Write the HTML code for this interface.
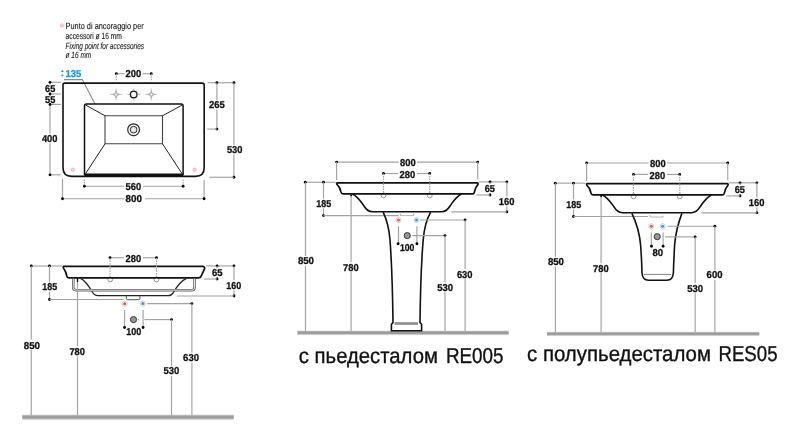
<!DOCTYPE html>
<html><head><meta charset="utf-8"><style>
html,body{margin:0;padding:0;background:#fff;width:800px;height:442px;overflow:hidden}
svg{display:block;will-change:transform}
text{font-family:"Liberation Sans",sans-serif;text-rendering:geometricPrecision}
</style></head><body>
<svg width="800" height="442" viewBox="0 0 800 442" stroke-linecap="butt">
<defs><linearGradient id="gb" x1="0" y1="0" x2="0" y2="1"><stop offset="0" stop-color="#e8e8e8"/><stop offset="0.25" stop-color="#a9a9a9"/><stop offset="0.45" stop-color="#979797"/><stop offset="0.62" stop-color="#9d9d9d"/><stop offset="0.8" stop-color="#c4c4c4"/><stop offset="1" stop-color="#eeeeee"/></linearGradient></defs>
<rect width="800" height="442" fill="#fff"/>
<circle cx="61.9" cy="25.6" r="1.7" fill="#f9d3dc" stroke="#f2a3b4" stroke-width="0.7"/>
<text x="65.6" y="28.6" font-size="9" font-weight="normal" fill="#1a1a1a" stroke="#1a1a1a" stroke-width="0.12" textLength="78.15" lengthAdjust="spacingAndGlyphs">Punto di ancoraggio per</text>
<text x="65.6" y="39" font-size="9" font-weight="normal" fill="#1a1a1a" stroke="#1a1a1a" stroke-width="0.12" textLength="56.3" lengthAdjust="spacingAndGlyphs">accessori ø 16 mm</text>
<text x="65.6" y="48.85" font-size="9" font-style="italic" fill="#1a1a1a" stroke="#1a1a1a" stroke-width="0.12" textLength="78.4" lengthAdjust="spacingAndGlyphs">Fixing point for accessories</text>
<text x="65.6" y="58.3" font-size="9" font-style="italic" fill="#1a1a1a" stroke="#1a1a1a" stroke-width="0.12" textLength="25.6" lengthAdjust="spacingAndGlyphs">ø 16 mm</text>
<path d="M60.9 71.9 L62.35 69.8 L63.8 71.9 Z M60.9 74.7 L62.35 76.8 L63.8 74.7 Z" stroke="none" stroke-width="0" fill="#1b9ad8" />
<path d="M62.35 72.2 L62.35 74.4" stroke="#bfe0f3" stroke-width="0.8" fill="none" />
<text x="65.6" y="77" font-size="10" font-weight="bold" fill="#1b9ad8" stroke="#1b9ad8" stroke-width="0.3" textLength="15.7" lengthAdjust="spacingAndGlyphs">135</text>
<path d="M64 79.6 L82.3 79.6 L95 104" stroke="#8a8a8a" stroke-width="1.05" fill="none" />
<path d="M63 85 Q63 83.1 64.9 83.1 L202.3 83.1 Q204.2 83.1 204.2 85 L204.2 167.5 Q204.2 176.4 195.5 176.4 L71.7 176.4 Q63 176.4 63 167.5 Z" stroke="#111" stroke-width="1.6" fill="none" />
<path d="M84.5 175.3 L84.5 106 Q84.5 104.1 86.4 104.1 L181.2 104.1 Q183.1 104.1 183.1 106 L183.1 175.3" stroke="#111" stroke-width="1.5" fill="none" />
<path d="M84.5 175.2 L183.1 175.2" stroke="#111" stroke-width="3.2" fill="none" />
<path d="M105 115.8 L162.5 115.8 L162.5 143.8 L105 143.8 Z" stroke="#454545" stroke-width="1.1" fill="none" />
<path d="M85.5 105 L105 115.8 M182.2 105 L162.5 115.8 M105 143.8 L85.2 174.2 M162.5 143.8 L182.4 174.2" stroke="#222" stroke-width="1.0" fill="none" />
<circle cx="133.6" cy="129.7" r="5.9" fill="none" stroke="#2a2a2a" stroke-width="1.2"/>
<circle cx="133.6" cy="129.7" r="3.4" fill="#dcdcdc" stroke="#333" stroke-width="1.0"/>
<circle cx="133.6" cy="129.7" r="1.6" fill="#eee"/>
<path d="M127 129.7 L127.9 129.7 M139.3 129.7 L140.2 129.7 M133.6 123.1 L133.6 124 M133.6 135.4 L133.6 136.3" stroke="#555" stroke-width="0.7" fill="none" />
<path d="M110.1 94.45 L122.1 94.45 M116.1 88.45 L116.1 100.45" stroke="#b4b4b4" stroke-width="0.8" fill="none" />
<path d="M112.5 94.45 L115.1 93.45 L116.1 90.85 L117.1 93.45 L119.7 94.45 L117.1 95.45 L116.1 98.05 L115.1 95.45 Z" stroke="#a0a0a0" stroke-width="0.7" fill="#c8c8c8" />
<circle cx="116.1" cy="94.45" r="0.9" fill="#f4f4f4"/>
<path d="M145.3 94.45 L157.3 94.45 M151.3 88.45 L151.3 100.45" stroke="#b4b4b4" stroke-width="0.8" fill="none" />
<path d="M147.7 94.45 L150.3 93.45 L151.3 90.85 L152.3 93.45 L154.9 94.45 L152.3 95.45 L151.3 98.05 L150.3 95.45 Z" stroke="#a0a0a0" stroke-width="0.7" fill="#c8c8c8" />
<circle cx="151.3" cy="94.45" r="0.9" fill="#f4f4f4"/>
<circle cx="133.7" cy="94.45" r="3.3" fill="#f4f4f4" stroke="#1a1a1a" stroke-width="1.3"/>
<path d="M127.5 94.45 L130 94.45 M137.4 94.45 L139.9 94.45 M133.7 88.5 L133.7 91 M133.7 97.9 L133.7 100.4" stroke="#999" stroke-width="0.8" fill="none" />
<circle cx="72.75" cy="169.75" r="1.7" fill="#f9d3dc" stroke="#f2a3b4" stroke-width="0.7"/>
<circle cx="194.6" cy="169.75" r="1.7" fill="#f9d3dc" stroke="#f2a3b4" stroke-width="0.7"/>
<line x1="50" y1="82.3" x2="50" y2="84.5" stroke="#a2a2a2" stroke-width="1.15" />
<line x1="50" y1="92.5" x2="50" y2="95.5" stroke="#a2a2a2" stroke-width="1.15" />
<line x1="50" y1="103" x2="50" y2="133.5" stroke="#a2a2a2" stroke-width="1.15" />
<line x1="50" y1="143.5" x2="50" y2="174.8" stroke="#a2a2a2" stroke-width="1.15" />
<line x1="50" y1="82.3" x2="61" y2="82.3" stroke="#a2a2a2" stroke-width="1.15" />
<circle cx="50" cy="82.3" r="1.4" fill="#000"/>
<line x1="50" y1="94" x2="61" y2="94" stroke="#a2a2a2" stroke-width="1.15" />
<circle cx="50" cy="94" r="1.4" fill="#000"/>
<line x1="50" y1="104.4" x2="61" y2="104.4" stroke="#a2a2a2" stroke-width="1.15" />
<circle cx="50" cy="104.4" r="1.4" fill="#000"/>
<line x1="50" y1="174.8" x2="60.6" y2="174.8" stroke="#a2a2a2" stroke-width="1.15" />
<circle cx="50" cy="174.8" r="1.4" fill="#000"/>
<text x="45.1" y="91.7" font-size="10" font-weight="bold" fill="#111" stroke="#111" stroke-width="0.3" textLength="10.2" lengthAdjust="spacingAndGlyphs">65</text>
<text x="45.1" y="102.8" font-size="10" font-weight="bold" fill="#111" stroke="#111" stroke-width="0.3" textLength="10.2" lengthAdjust="spacingAndGlyphs">55</text>
<text x="41.9" y="141.9" font-size="10" font-weight="bold" fill="#111" stroke="#111" stroke-width="0.3" textLength="15.6" lengthAdjust="spacingAndGlyphs">400</text>
<line x1="116.25" y1="73.75" x2="124.5" y2="73.75" stroke="#a2a2a2" stroke-width="1.15" />
<line x1="142.5" y1="73.75" x2="151.25" y2="73.75" stroke="#a2a2a2" stroke-width="1.15" />
<circle cx="116.25" cy="73.75" r="1.4" fill="#000"/>
<circle cx="151.25" cy="73.75" r="1.4" fill="#000"/>
<line x1="116.25" y1="73.75" x2="116.25" y2="80.6" stroke="#a2a2a2" stroke-width="1.15" stroke-dasharray="1.5 1"/>
<line x1="151.25" y1="73.75" x2="151.25" y2="80.6" stroke="#a2a2a2" stroke-width="1.15" stroke-dasharray="1.5 1"/>
<text x="125.6" y="77.3" font-size="10" font-weight="bold" fill="#111" stroke="#111" stroke-width="0.3" textLength="15.65" lengthAdjust="spacingAndGlyphs">200</text>
<line x1="207.5" y1="82.75" x2="235" y2="82.75" stroke="#a2a2a2" stroke-width="1.15" />
<circle cx="216.9" cy="82.75" r="1.4" fill="#000"/>
<circle cx="234" cy="82.75" r="1.4" fill="#000"/>
<line x1="216.9" y1="82.75" x2="216.9" y2="100" stroke="#a2a2a2" stroke-width="1.15" />
<line x1="216.9" y1="109.5" x2="216.9" y2="129.1" stroke="#a2a2a2" stroke-width="1.15" />
<circle cx="216.9" cy="129.1" r="1.4" fill="#000"/>
<line x1="207.3" y1="129.1" x2="216.9" y2="129.1" stroke="#a2a2a2" stroke-width="1.15" />
<text x="209" y="108.1" font-size="10" font-weight="bold" fill="#111" stroke="#111" stroke-width="0.3" textLength="15.75" lengthAdjust="spacingAndGlyphs">265</text>
<line x1="233.9" y1="82.75" x2="233.9" y2="145" stroke="#a2a2a2" stroke-width="1.15" />
<line x1="233.9" y1="154.5" x2="233.9" y2="177.25" stroke="#a2a2a2" stroke-width="1.15" />
<circle cx="233.9" cy="177.25" r="1.4" fill="#000"/>
<line x1="209.4" y1="177.25" x2="233.9" y2="177.25" stroke="#a2a2a2" stroke-width="1.15" />
<text x="226.9" y="153.1" font-size="10" font-weight="bold" fill="#111" stroke="#111" stroke-width="0.3" textLength="15.6" lengthAdjust="spacingAndGlyphs">530</text>
<line x1="84.4" y1="179.4" x2="84.4" y2="186.25" stroke="#a2a2a2" stroke-width="1.15" stroke-dasharray="1.5 1"/>
<line x1="183.1" y1="179.4" x2="183.1" y2="186.25" stroke="#a2a2a2" stroke-width="1.15" stroke-dasharray="1.5 1"/>
<line x1="84.4" y1="186.25" x2="124.4" y2="186.25" stroke="#a2a2a2" stroke-width="1.15" />
<line x1="143" y1="186.25" x2="183.1" y2="186.25" stroke="#a2a2a2" stroke-width="1.15" />
<circle cx="84.4" cy="186.25" r="1.4" fill="#000"/>
<circle cx="183.1" cy="186.25" r="1.4" fill="#000"/>
<text x="125.6" y="190" font-size="10" font-weight="bold" fill="#111" stroke="#111" stroke-width="0.3" textLength="15.65" lengthAdjust="spacingAndGlyphs">560</text>
<line x1="62.5" y1="179" x2="62.5" y2="198.75" stroke="#a2a2a2" stroke-width="1.15" />
<line x1="204.1" y1="180" x2="204.1" y2="198.75" stroke="#a2a2a2" stroke-width="1.15" />
<line x1="62.5" y1="198.75" x2="124.4" y2="198.75" stroke="#a2a2a2" stroke-width="1.15" />
<line x1="145" y1="198.75" x2="204.1" y2="198.75" stroke="#a2a2a2" stroke-width="1.15" />
<circle cx="62.5" cy="198.75" r="1.4" fill="#000"/>
<circle cx="204.1" cy="198.75" r="1.4" fill="#000"/>
<text x="125.6" y="201.9" font-size="10" font-weight="bold" fill="#111" stroke="#111" stroke-width="0.3" textLength="16.3" lengthAdjust="spacingAndGlyphs">800</text>
<rect x="22.25" y="414.4" width="211.5" height="5.7" fill="url(#gb)" />
<circle cx="110.2" cy="279.5" r="2.4" fill="#fff" stroke="#8a8a8a" stroke-width="0.9"/>
<circle cx="156.4" cy="279.5" r="2.4" fill="#fff" stroke="#8a8a8a" stroke-width="0.9"/>
<path d="M63.8 266.3 L203 266.3 Q204 266.4 204.6 267.6 Q204.9 268.3 204.5 269 L201.3 275.8 Q200.7 277.7 198.8 277.8 L68.8 277.8 Q67.2 277.8 66.8 276 C66.2 272.5 65.5 271 64 269 Q62.5 266.8 63.8 266.3 Z" stroke="#111" stroke-width="1.7" fill="none" />
<path d="M80.6 278.3 C86 281 89.5 287 92.5 292.3 Q94.3 295.6 98 295.6 L168.5 295.6 Q171.5 295.6 173.5 292.3 C176.5 287 181 281 186.3 278.3" stroke="#222" stroke-width="1.3" fill="none" />
<path d="M73.3 278.8 L73.3 287.6 Q73.3 290.2 76 290.2 L192 290.2 Q194.5 290.2 194.5 287.6 L194.5 278.8" stroke="#5c5c5c" stroke-width="2.5" fill="none" />
<path d="M73.3 278.8 L73.3 287.6 Q73.3 290.2 76 290.2 L192 290.2 Q194.5 290.2 194.5 287.6 L194.5 278.8" stroke="#f4f4f4" stroke-width="0.9" fill="none" />
<path d="M77.5 278 L77.5 282" stroke="#111" stroke-width="1.4" fill="none" />
<path d="M126.3 295.8 L126.3 298.4 Q126.3 299.7 127.6 299.7 L138.7 299.7 Q140 299.7 140 298.4 L140 295.8" stroke="#444" stroke-width="0.9" fill="none" />
<line x1="31.25" y1="266" x2="61.9" y2="266" stroke="#a2a2a2" stroke-width="1.15" />
<circle cx="31.25" cy="266" r="1.4" fill="#000"/>
<circle cx="49.5" cy="266" r="1.4" fill="#000"/>
<line x1="31.25" y1="266" x2="31.25" y2="339.5" stroke="#a2a2a2" stroke-width="1.15" />
<line x1="31.25" y1="350" x2="31.25" y2="415.3" stroke="#a2a2a2" stroke-width="1.15" />
<text x="23.75" y="348.5" font-size="10" font-weight="bold" fill="#111" stroke="#111" stroke-width="0.3" textLength="16.25" lengthAdjust="spacingAndGlyphs">850</text>
<line x1="49.5" y1="266" x2="49.5" y2="282.3" stroke="#a2a2a2" stroke-width="1.15" />
<line x1="49.5" y1="291.8" x2="49.5" y2="299.5" stroke="#a2a2a2" stroke-width="1.15" />
<circle cx="49.5" cy="299.5" r="1.4" fill="#000"/>
<line x1="49.5" y1="299.5" x2="123.75" y2="299.5" stroke="#a2a2a2" stroke-width="1.15" />
<text x="42.25" y="290.25" font-size="10" font-weight="bold" fill="#111" stroke="#111" stroke-width="0.3" textLength="14.85" lengthAdjust="spacingAndGlyphs">185</text>
<line x1="77.5" y1="282" x2="77.5" y2="346" stroke="#a2a2a2" stroke-width="1.15" />
<line x1="77.5" y1="356.3" x2="77.5" y2="415.3" stroke="#a2a2a2" stroke-width="1.15" />
<text x="69.4" y="354.75" font-size="10" font-weight="bold" fill="#111" stroke="#111" stroke-width="0.3" textLength="15.6" lengthAdjust="spacingAndGlyphs">780</text>
<line x1="110" y1="257.75" x2="124" y2="257.75" stroke="#a2a2a2" stroke-width="1.15" />
<line x1="143" y1="257.75" x2="156.5" y2="257.75" stroke="#a2a2a2" stroke-width="1.15" />
<circle cx="110" cy="257.75" r="1.4" fill="#000"/>
<circle cx="156.5" cy="257.75" r="1.4" fill="#000"/>
<text x="125.6" y="261.9" font-size="10" font-weight="bold" fill="#111" stroke="#111" stroke-width="0.3" textLength="15.65" lengthAdjust="spacingAndGlyphs">280</text>
<line x1="110" y1="258" x2="110" y2="278.6" stroke="#a2a2a2" stroke-width="1.15" stroke-dasharray="1.5 1"/>
<line x1="156.5" y1="258" x2="156.5" y2="278.6" stroke="#a2a2a2" stroke-width="1.15" stroke-dasharray="1.5 1"/>
<line x1="206.25" y1="265.9" x2="234" y2="265.9" stroke="#a2a2a2" stroke-width="1.15" />
<circle cx="217.1" cy="265.9" r="1.4" fill="#000"/>
<circle cx="234" cy="265.9" r="1.4" fill="#000"/>
<line x1="217.1" y1="265.9" x2="217.1" y2="268" stroke="#a2a2a2" stroke-width="1.15" />
<line x1="217.1" y1="277.3" x2="217.1" y2="279" stroke="#a2a2a2" stroke-width="1.15" />
<circle cx="217.1" cy="279" r="1.4" fill="#000"/>
<line x1="203.75" y1="279" x2="217.1" y2="279" stroke="#a2a2a2" stroke-width="1.15" />
<text x="211.9" y="276.25" font-size="10" font-weight="bold" fill="#111" stroke="#111" stroke-width="0.3" textLength="10.6" lengthAdjust="spacingAndGlyphs">65</text>
<line x1="234" y1="265.9" x2="234" y2="280.5" stroke="#a2a2a2" stroke-width="1.15" />
<line x1="234" y1="290.3" x2="234" y2="296" stroke="#a2a2a2" stroke-width="1.15" />
<circle cx="234" cy="296" r="1.4" fill="#000"/>
<line x1="176.9" y1="296" x2="234" y2="296" stroke="#a2a2a2" stroke-width="1.15" />
<text x="226.25" y="288.75" font-size="10" font-weight="bold" fill="#111" stroke="#111" stroke-width="0.3" textLength="15" lengthAdjust="spacingAndGlyphs">160</text>
<circle cx="124.6" cy="303.75" r="2.6" fill="#f4f4f4" stroke="#c8c8c8" stroke-width="0.8"/>
<circle cx="124.6" cy="303.75" r="1.5" fill="#e85a4a"/>
<circle cx="142.9" cy="303.6" r="2.6" fill="#f4f4f4" stroke="#c8c8c8" stroke-width="0.8"/>
<circle cx="142.9" cy="303.6" r="1.5" fill="#3a9ae0"/>
<line x1="147.25" y1="303.6" x2="191.9" y2="303.6" stroke="#a2a2a2" stroke-width="1.15" />
<circle cx="191.9" cy="303.6" r="1.4" fill="#000"/>
<line x1="191.9" y1="303.6" x2="191.9" y2="352.5" stroke="#a2a2a2" stroke-width="1.15" />
<line x1="191.9" y1="362.5" x2="191.9" y2="415.3" stroke="#a2a2a2" stroke-width="1.15" />
<text x="183.1" y="361" font-size="10" font-weight="bold" fill="#111" stroke="#111" stroke-width="0.3" textLength="15.9" lengthAdjust="spacingAndGlyphs">630</text>
<line x1="124.6" y1="310" x2="124.6" y2="327.5" stroke="#a2a2a2" stroke-width="1.15" />
<line x1="143.1" y1="310" x2="143.1" y2="327.5" stroke="#a2a2a2" stroke-width="1.15" />
<circle cx="124.6" cy="327.5" r="1.4" fill="#000"/>
<circle cx="143.1" cy="327.5" r="1.4" fill="#000"/>
<text x="126.25" y="335" font-size="10" font-weight="bold" fill="#111" stroke="#111" stroke-width="0.3" textLength="15" lengthAdjust="spacingAndGlyphs">100</text>
<circle cx="133.5" cy="319.6" r="3.1" fill="#8a8a8a" stroke="#333" stroke-width="0.9"/>
<circle cx="133.5" cy="319.6" r="1.5" fill="none" stroke="#bbb" stroke-width="0.5"/>
<line x1="138" y1="319.6" x2="140" y2="319.6" stroke="#a2a2a2" stroke-width="1.15" stroke-dasharray="1 1"/>
<line x1="144.4" y1="319.6" x2="171.5" y2="319.6" stroke="#a2a2a2" stroke-width="1.15" />
<circle cx="171.5" cy="319.6" r="1.4" fill="#000"/>
<line x1="171.5" y1="319.6" x2="171.5" y2="365.8" stroke="#a2a2a2" stroke-width="1.15" />
<line x1="171.5" y1="376" x2="171.5" y2="415.3" stroke="#a2a2a2" stroke-width="1.15" />
<text x="163.5" y="374.4" font-size="10" font-weight="bold" fill="#111" stroke="#111" stroke-width="0.3" textLength="15.9" lengthAdjust="spacingAndGlyphs">530</text>
<rect x="297.4" y="330.4" width="211.35" height="4.9" fill="url(#gb)" />
<circle cx="383.5" cy="195.4" r="2.4" fill="#fff" stroke="#8a8a8a" stroke-width="0.9"/>
<circle cx="429.75" cy="195.4" r="2.4" fill="#fff" stroke="#8a8a8a" stroke-width="0.9"/>
<path d="M337 182.8 L477.3 182.8 Q478.4 183 478 184.3 L475.6 188 L474.2 192.6 Q473.7 193.9 472.5 193.9 L343 193.9 Q341.3 193.9 340.9 191.9 C340.4 188.5 339.5 187 337.6 185.2 Q336 183.6 337 182.8 Z" stroke="#111" stroke-width="1.7" fill="none" />
<path d="M352.3 194 C358 196.5 361 202 364 206 Q367.5 211.8 372.5 211.8 L441.5 211.8 Q446.5 211.8 450 206 C453 202 456 196.5 461.5 194" stroke="#111" stroke-width="1.6" fill="none" />
<line x1="336.6" y1="162.1" x2="398.5" y2="162.1" stroke="#a2a2a2" stroke-width="1.15" />
<line x1="417" y1="162.1" x2="477.75" y2="162.1" stroke="#a2a2a2" stroke-width="1.15" />
<circle cx="336.6" cy="162.1" r="1.4" fill="#000"/>
<circle cx="477.75" cy="162.1" r="1.4" fill="#000"/>
<line x1="336.6" y1="162.1" x2="336.6" y2="180" stroke="#a2a2a2" stroke-width="1.15" />
<line x1="477.75" y1="162.1" x2="477.75" y2="179.4" stroke="#a2a2a2" stroke-width="1.15" />
<text x="400" y="165.6" font-size="10" font-weight="bold" fill="#111" stroke="#111" stroke-width="0.3" textLength="15.6" lengthAdjust="spacingAndGlyphs">800</text>
<line x1="383.5" y1="173.5" x2="398" y2="173.5" stroke="#a2a2a2" stroke-width="1.15" />
<line x1="417" y1="173.5" x2="429.75" y2="173.5" stroke="#a2a2a2" stroke-width="1.15" />
<circle cx="383.5" cy="173.5" r="1.4" fill="#000"/>
<circle cx="429.75" cy="173.5" r="1.4" fill="#000"/>
<line x1="383.5" y1="173.5" x2="383.5" y2="193.3" stroke="#a2a2a2" stroke-width="1.15" stroke-dasharray="1.5 1"/>
<line x1="429.75" y1="173.5" x2="429.75" y2="193.3" stroke="#a2a2a2" stroke-width="1.15" stroke-dasharray="1.5 1"/>
<text x="399.6" y="177.75" font-size="10" font-weight="bold" fill="#111" stroke="#111" stroke-width="0.3" textLength="15.65" lengthAdjust="spacingAndGlyphs">280</text>
<line x1="305.25" y1="182.25" x2="335.6" y2="182.25" stroke="#a2a2a2" stroke-width="1.15" />
<circle cx="305.25" cy="182.25" r="1.4" fill="#000"/>
<circle cx="323.5" cy="182.25" r="1.4" fill="#000"/>
<text x="297.9" y="264.4" font-size="10" font-weight="bold" fill="#111" stroke="#111" stroke-width="0.3" textLength="16.1" lengthAdjust="spacingAndGlyphs">850</text>
<line x1="323.5" y1="182.25" x2="323.5" y2="198.5" stroke="#a2a2a2" stroke-width="1.15" />
<line x1="323.5" y1="208.5" x2="323.5" y2="215.6" stroke="#a2a2a2" stroke-width="1.15" />
<circle cx="323.5" cy="215.6" r="1.4" fill="#000"/>
<text x="316.25" y="206.9" font-size="10" font-weight="bold" fill="#111" stroke="#111" stroke-width="0.3" textLength="15" lengthAdjust="spacingAndGlyphs">185</text>
<line x1="351.1" y1="194.4" x2="351.1" y2="262" stroke="#a2a2a2" stroke-width="1.15" />
<line x1="351.1" y1="272" x2="351.1" y2="331" stroke="#a2a2a2" stroke-width="1.15" />
<circle cx="351.1" cy="195.2" r="1.0" fill="#000"/>
<text x="343.1" y="270.6" font-size="10" font-weight="bold" fill="#111" stroke="#111" stroke-width="0.3" textLength="15.65" lengthAdjust="spacingAndGlyphs">780</text>
<line x1="478.75" y1="181.9" x2="506.9" y2="181.9" stroke="#a2a2a2" stroke-width="1.15" />
<circle cx="490" cy="181.9" r="1.4" fill="#000"/>
<circle cx="506.9" cy="181.9" r="1.4" fill="#000"/>
<line x1="490" y1="181.9" x2="490" y2="184" stroke="#a2a2a2" stroke-width="1.15" />
<line x1="490" y1="193.3" x2="490" y2="195" stroke="#a2a2a2" stroke-width="1.15" />
<circle cx="490" cy="195" r="1.4" fill="#000"/>
<line x1="476.25" y1="195" x2="490" y2="195" stroke="#a2a2a2" stroke-width="1.15" />
<text x="484.75" y="192.25" font-size="10" font-weight="bold" fill="#111" stroke="#111" stroke-width="0.3" textLength="10.25" lengthAdjust="spacingAndGlyphs">65</text>
<line x1="506.9" y1="181.9" x2="506.9" y2="196.5" stroke="#a2a2a2" stroke-width="1.15" />
<line x1="506.9" y1="206.3" x2="506.9" y2="211.9" stroke="#a2a2a2" stroke-width="1.15" />
<circle cx="506.9" cy="211.9" r="1.4" fill="#000"/>
<line x1="451.25" y1="211.9" x2="506.9" y2="211.9" stroke="#a2a2a2" stroke-width="1.15" />
<text x="498.75" y="205" font-size="10" font-weight="bold" fill="#111" stroke="#111" stroke-width="0.3" textLength="15.65" lengthAdjust="spacingAndGlyphs">160</text>
<line x1="305.5" y1="182.25" x2="305.5" y2="256" stroke="#a2a2a2" stroke-width="1.15" />
<line x1="305.5" y1="266" x2="305.5" y2="331.1" stroke="#a2a2a2" stroke-width="1.15" />
<line x1="323.5" y1="215.6" x2="398.75" y2="215.6" stroke="#a2a2a2" stroke-width="1.15" />
<path d="M383.1 212.2 C386.5 219 389 228 390 240 C391.2 256 392.6 290 393 322.6 L391.4 324.3 L391.4 330.7 L421.6 330.7 L421.6 324.3 L420 322.6 C420.4 290 421.8 256 423.2 240 C424.2 228 426.8 219 430.6 212.2" stroke="#111" stroke-width="1.6" fill="none" />
<rect x="394.6" y="322.2" width="23.4" height="2.6" fill="#8c8c8c" />
<path d="M400.2 213.8 L400.2 215.6 L413.8 215.6 L413.8 213.8" stroke="#555" stroke-width="0.7" fill="none" stroke-dasharray="1.2 0.8"/>
<circle cx="398.5" cy="220" r="2.6" fill="#f4f4f4" stroke="#c8c8c8" stroke-width="0.8"/>
<circle cx="398.5" cy="220" r="1.5" fill="#e85a4a"/>
<circle cx="416.5" cy="220" r="2.6" fill="#f4f4f4" stroke="#c8c8c8" stroke-width="0.8"/>
<circle cx="416.5" cy="220" r="1.5" fill="#3a9ae0"/>
<line x1="420" y1="220" x2="465.1" y2="220" stroke="#a2a2a2" stroke-width="1.15" />
<circle cx="465.1" cy="220" r="1.4" fill="#000"/>
<line x1="465.1" y1="220" x2="465.1" y2="269" stroke="#a2a2a2" stroke-width="1.15" />
<line x1="465.1" y1="279" x2="465.1" y2="331.1" stroke="#a2a2a2" stroke-width="1.15" />
<text x="456.9" y="277.5" font-size="10" font-weight="bold" fill="#111" stroke="#111" stroke-width="0.3" textLength="15.6" lengthAdjust="spacingAndGlyphs">630</text>
<circle cx="407.25" cy="235.6" r="3.1" fill="#8a8a8a" stroke="#333" stroke-width="0.9"/>
<circle cx="407.25" cy="235.6" r="1.5" fill="none" stroke="#bbb" stroke-width="0.5"/>
<line x1="412.5" y1="235.6" x2="445" y2="235.6" stroke="#a2a2a2" stroke-width="1.15" />
<circle cx="445" cy="235.6" r="1.4" fill="#000"/>
<line x1="445" y1="235.6" x2="445" y2="282.3" stroke="#a2a2a2" stroke-width="1.15" />
<line x1="445" y1="292.3" x2="445" y2="331.1" stroke="#a2a2a2" stroke-width="1.15" />
<text x="437.25" y="290.6" font-size="10" font-weight="bold" fill="#111" stroke="#111" stroke-width="0.3" textLength="15.85" lengthAdjust="spacingAndGlyphs">530</text>
<line x1="398.5" y1="226.3" x2="398.5" y2="243.75" stroke="#a2a2a2" stroke-width="1.15" />
<line x1="416.9" y1="226.3" x2="416.9" y2="243.75" stroke="#a2a2a2" stroke-width="1.15" />
<circle cx="398.1" cy="243.75" r="1.4" fill="#000"/>
<circle cx="416.9" cy="243.75" r="1.4" fill="#000"/>
<text x="400" y="251.25" font-size="10" font-weight="bold" fill="#111" stroke="#111" stroke-width="0.3" textLength="14.4" lengthAdjust="spacingAndGlyphs">100</text>
<rect x="547" y="331.6" width="212.4" height="4.6" fill="url(#gb)" />
<circle cx="633.5" cy="196.3" r="2.4" fill="#fff" stroke="#8a8a8a" stroke-width="0.9"/>
<circle cx="679.75" cy="196.3" r="2.4" fill="#fff" stroke="#8a8a8a" stroke-width="0.9"/>
<path d="M587 183.7 L727.3 183.7 Q728.4 183.9 728 185.2 L725.6 188.9 L724.2 193.5 Q723.7 194.8 722.5 194.8 L593 194.8 Q591.3 194.8 590.9 192.8 C590.4 189.4 589.5 187.9 587.6 186.1 Q586 184.5 587 183.7 Z" stroke="#111" stroke-width="1.7" fill="none" />
<path d="M602.3 194.9 C608 197.4 611 202.9 614 206.9 Q617.5 212.7 622.5 212.7 L691.5 212.7 Q696.5 212.7 700 206.9 C703 202.9 706 197.4 711.5 194.9" stroke="#111" stroke-width="1.6" fill="none" />
<line x1="586.6" y1="163" x2="648.5" y2="163" stroke="#a2a2a2" stroke-width="1.15" />
<line x1="667" y1="163" x2="727.75" y2="163" stroke="#a2a2a2" stroke-width="1.15" />
<circle cx="586.6" cy="163" r="1.4" fill="#000"/>
<circle cx="727.75" cy="163" r="1.4" fill="#000"/>
<line x1="586.6" y1="163" x2="586.6" y2="180.9" stroke="#a2a2a2" stroke-width="1.15" />
<line x1="727.75" y1="163" x2="727.75" y2="180.3" stroke="#a2a2a2" stroke-width="1.15" />
<text x="650" y="166.5" font-size="10" font-weight="bold" fill="#111" stroke="#111" stroke-width="0.3" textLength="15.6" lengthAdjust="spacingAndGlyphs">800</text>
<line x1="633.5" y1="174.4" x2="648" y2="174.4" stroke="#a2a2a2" stroke-width="1.15" />
<line x1="667" y1="174.4" x2="679.75" y2="174.4" stroke="#a2a2a2" stroke-width="1.15" />
<circle cx="633.5" cy="174.4" r="1.4" fill="#000"/>
<circle cx="679.75" cy="174.4" r="1.4" fill="#000"/>
<line x1="633.5" y1="174.4" x2="633.5" y2="194.2" stroke="#a2a2a2" stroke-width="1.15" stroke-dasharray="1.5 1"/>
<line x1="679.75" y1="174.4" x2="679.75" y2="194.2" stroke="#a2a2a2" stroke-width="1.15" stroke-dasharray="1.5 1"/>
<text x="649.6" y="178.65" font-size="10" font-weight="bold" fill="#111" stroke="#111" stroke-width="0.3" textLength="15.65" lengthAdjust="spacingAndGlyphs">280</text>
<line x1="555.25" y1="183.15" x2="585.6" y2="183.15" stroke="#a2a2a2" stroke-width="1.15" />
<circle cx="555.25" cy="183.15" r="1.4" fill="#000"/>
<circle cx="573.5" cy="183.15" r="1.4" fill="#000"/>
<text x="547.9" y="265.3" font-size="10" font-weight="bold" fill="#111" stroke="#111" stroke-width="0.3" textLength="16.1" lengthAdjust="spacingAndGlyphs">850</text>
<line x1="573.5" y1="183.15" x2="573.5" y2="199.4" stroke="#a2a2a2" stroke-width="1.15" />
<line x1="573.5" y1="209.4" x2="573.5" y2="216.5" stroke="#a2a2a2" stroke-width="1.15" />
<circle cx="573.5" cy="216.5" r="1.4" fill="#000"/>
<text x="566.25" y="207.8" font-size="10" font-weight="bold" fill="#111" stroke="#111" stroke-width="0.3" textLength="15" lengthAdjust="spacingAndGlyphs">185</text>
<line x1="601.1" y1="195.3" x2="601.1" y2="262.9" stroke="#a2a2a2" stroke-width="1.15" />
<line x1="601.1" y1="272.9" x2="601.1" y2="331.9" stroke="#a2a2a2" stroke-width="1.15" />
<circle cx="601.1" cy="196.1" r="1.0" fill="#000"/>
<text x="593.1" y="271.5" font-size="10" font-weight="bold" fill="#111" stroke="#111" stroke-width="0.3" textLength="15.65" lengthAdjust="spacingAndGlyphs">780</text>
<line x1="728.75" y1="182.8" x2="756.9" y2="182.8" stroke="#a2a2a2" stroke-width="1.15" />
<circle cx="740" cy="182.8" r="1.4" fill="#000"/>
<circle cx="756.9" cy="182.8" r="1.4" fill="#000"/>
<line x1="740" y1="182.8" x2="740" y2="184.9" stroke="#a2a2a2" stroke-width="1.15" />
<line x1="740" y1="194.2" x2="740" y2="195.9" stroke="#a2a2a2" stroke-width="1.15" />
<circle cx="740" cy="195.9" r="1.4" fill="#000"/>
<line x1="726.25" y1="195.9" x2="740" y2="195.9" stroke="#a2a2a2" stroke-width="1.15" />
<text x="734.75" y="193.15" font-size="10" font-weight="bold" fill="#111" stroke="#111" stroke-width="0.3" textLength="10.25" lengthAdjust="spacingAndGlyphs">65</text>
<line x1="756.9" y1="182.8" x2="756.9" y2="197.4" stroke="#a2a2a2" stroke-width="1.15" />
<line x1="756.9" y1="207.2" x2="756.9" y2="212.8" stroke="#a2a2a2" stroke-width="1.15" />
<circle cx="756.9" cy="212.8" r="1.4" fill="#000"/>
<line x1="701.25" y1="212.8" x2="756.9" y2="212.8" stroke="#a2a2a2" stroke-width="1.15" />
<text x="748.75" y="205.9" font-size="10" font-weight="bold" fill="#111" stroke="#111" stroke-width="0.3" textLength="15.65" lengthAdjust="spacingAndGlyphs">160</text>
<line x1="555.4" y1="183.15" x2="555.4" y2="256.8" stroke="#a2a2a2" stroke-width="1.15" />
<line x1="555.4" y1="266.8" x2="555.4" y2="332.2" stroke="#a2a2a2" stroke-width="1.15" />
<line x1="573.5" y1="216.5" x2="648" y2="216.5" stroke="#a2a2a2" stroke-width="1.15" />
<path d="M631.9 213.4 C636 222 639.5 232 640.6 245 C641.4 256 641.9 266 641.9 272.5 Q642.5 280.3 648.5 280.3 L666.8 280.3 Q673 280.3 673.4 272.5 C673.6 266 674 256 674.6 245 C675.7 232 678.6 222 681.9 213.4" stroke="#111" stroke-width="1.6" fill="none" />
<line x1="643.6" y1="274.4" x2="671" y2="274.4" stroke="#777" stroke-width="0.9" />
<path d="M650 215.4 L650 217 L663 217 L663 215.4" stroke="#555" stroke-width="0.7" fill="none" stroke-dasharray="1.2 0.8"/>
<circle cx="651.25" cy="226.25" r="2.6" fill="#f4f4f4" stroke="#c8c8c8" stroke-width="0.8"/>
<circle cx="651.25" cy="226.25" r="1.5" fill="#e85a4a"/>
<circle cx="662.6" cy="226.25" r="2.6" fill="#f4f4f4" stroke="#c8c8c8" stroke-width="0.8"/>
<circle cx="662.6" cy="226.25" r="1.5" fill="#3a9ae0"/>
<line x1="667.5" y1="226.2" x2="714.9" y2="226.2" stroke="#a2a2a2" stroke-width="1.15" />
<circle cx="714.9" cy="226.2" r="1.4" fill="#000"/>
<line x1="714.9" y1="226.2" x2="714.9" y2="270" stroke="#a2a2a2" stroke-width="1.15" />
<line x1="714.9" y1="280" x2="714.9" y2="332.2" stroke="#a2a2a2" stroke-width="1.15" />
<text x="706.6" y="278.1" font-size="10" font-weight="bold" fill="#111" stroke="#111" stroke-width="0.3" textLength="15.9" lengthAdjust="spacingAndGlyphs">600</text>
<circle cx="657.25" cy="236.7" r="3.1" fill="#8a8a8a" stroke="#333" stroke-width="0.9"/>
<circle cx="657.25" cy="236.7" r="1.5" fill="none" stroke="#bbb" stroke-width="0.5"/>
<line x1="665" y1="236.9" x2="695.2" y2="236.9" stroke="#a2a2a2" stroke-width="1.15" />
<circle cx="695.2" cy="236.9" r="1.4" fill="#000"/>
<line x1="695.2" y1="236.9" x2="695.2" y2="283.3" stroke="#a2a2a2" stroke-width="1.15" />
<line x1="695.2" y1="293.3" x2="695.2" y2="332.2" stroke="#a2a2a2" stroke-width="1.15" />
<text x="687.25" y="291.9" font-size="10" font-weight="bold" fill="#111" stroke="#111" stroke-width="0.3" textLength="15.85" lengthAdjust="spacingAndGlyphs">530</text>
<line x1="651.3" y1="232.5" x2="651.3" y2="246.25" stroke="#a2a2a2" stroke-width="1.15" />
<line x1="663.1" y1="232.5" x2="663.1" y2="246.25" stroke="#a2a2a2" stroke-width="1.15" />
<circle cx="651.5" cy="246.25" r="1.4" fill="#000"/>
<circle cx="663.1" cy="246.25" r="1.4" fill="#000"/>
<text x="652.5" y="255.6" font-size="10" font-weight="bold" fill="#111" stroke="#111" stroke-width="0.3" textLength="10.6" lengthAdjust="spacingAndGlyphs">80</text>
<text x="298.8" y="363.4" font-size="21.6" fill="#111" stroke="#111" stroke-width="0.35" textLength="139.1" lengthAdjust="spacingAndGlyphs">с пьедесталом</text>
<text x="445.9" y="363.4" font-size="21.6" fill="#111" stroke="#111" stroke-width="0.35" textLength="57.7" lengthAdjust="spacingAndGlyphs">RE005</text>
<text x="527" y="360.8" font-size="21.6" fill="#111" stroke="#111" stroke-width="0.35" textLength="184" lengthAdjust="spacingAndGlyphs">с полупьедесталом</text>
<text x="718.5" y="360.8" font-size="21.6" fill="#111" stroke="#111" stroke-width="0.35" textLength="59" lengthAdjust="spacingAndGlyphs">RES05</text>
</svg>
</body></html>
